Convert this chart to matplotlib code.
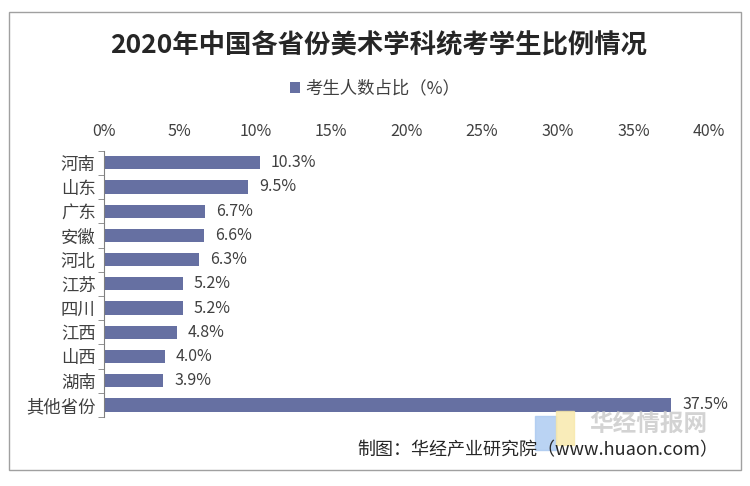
import matplotlib.pyplot as plt
import matplotlib.patches as mpatches
import numpy as np

plt.rcParams['font.family'] = ['Noto Sans CJK SC', 'DejaVu Sans']

# 数据
provinces = ['河南', '山东', '广东', '安徽', '河北', '江苏', '四川', '江西', '山西', '湖南', '其他省份']
ratios = [10.3, 9.5, 6.7, 6.6, 6.3, 5.2, 5.2, 4.8, 4.0, 3.9, 37.5]
xticks = [0, 5, 10, 15, 20, 25, 30, 35, 40]

bar_color = '#6670A2'
text_color = '#404040'

fig = plt.figure(figsize=(7.5, 4.86), dpi=100)
ax = fig.add_axes([0.1387, 0.142, 0.8066, 0.548])

y = np.arange(len(provinces))
bars = ax.barh(y, ratios, height=0.55, color=bar_color, label='考生人数占比（%）')

ax.set_xlim(0, 40)
ax.set_ylim(len(provinces) - 0.5, -0.5)
ax.xaxis.tick_top()
ax.set_xticks(xticks)
ax.set_xticklabels([f'{v}%' for v in xticks], fontsize=11.5, color=text_color)
ax.tick_params(axis='x', length=0, pad=8)

ax.set_yticks(y)
ax.set_yticklabels(provinces, fontsize=12.5, color=text_color)
ax.set_yticks(np.arange(-0.5, len(provinces), 1), minor=True)
ax.tick_params(axis='y', which='major', length=0, pad=6)
ax.tick_params(axis='y', which='minor', length=4, color='#808080', direction='out')

for s in ['top', 'right', 'bottom']:
    ax.spines[s].set_visible(False)
ax.spines['left'].set_color('#808080')

# 数据标签
for b, v in zip(bars, ratios):
    ax.annotate(f'{v:.1f}%', (b.get_width(), b.get_y() + b.get_height() / 2),
                xytext=(8, 0), textcoords='offset points', va='center', ha='left',
                fontsize=11.5, color=text_color)

# 标题和图例
fig.text(0.505, 0.905, '2020年中国各省份美术学科统考学生比例情况', ha='center', va='center',
         fontsize=19, fontweight='bold', color='#262626')
fig.legend(loc='center', bbox_to_anchor=(0.5, 0.818), frameon=False, fontsize=12.5,
           handlelength=0.6, handleheight=0.6, handletextpad=0.3, labelcolor=text_color)

# 水印
fig.patches.append(mpatches.Rectangle((0.713, 0.075), 0.028, 0.07, transform=fig.transFigure,
                                      color='#A9C8F0', alpha=0.8, zorder=0))
fig.patches.append(mpatches.Rectangle((0.741, 0.085), 0.024, 0.07, transform=fig.transFigure,
                                      color='#F8E8A8', alpha=0.8, zorder=0))
fig.text(0.865, 0.128, '华经情报网', ha='center', va='center', fontsize=17,
         fontweight='bold', color='#C8C8C8', alpha=0.8)

# 来源
fig.text(0.958, 0.073, '制图：华经产业研究院（www.huaon.com）', ha='right', va='center',
         fontsize=13, color='#262626')

# 外框
fig.patches.append(mpatches.Rectangle((0.012, 0.033), 0.976, 0.942, transform=fig.transFigure,
                                      fill=False, edgecolor='#A0A0A0', linewidth=1))

fig.savefig('out.png', dpi=100)
